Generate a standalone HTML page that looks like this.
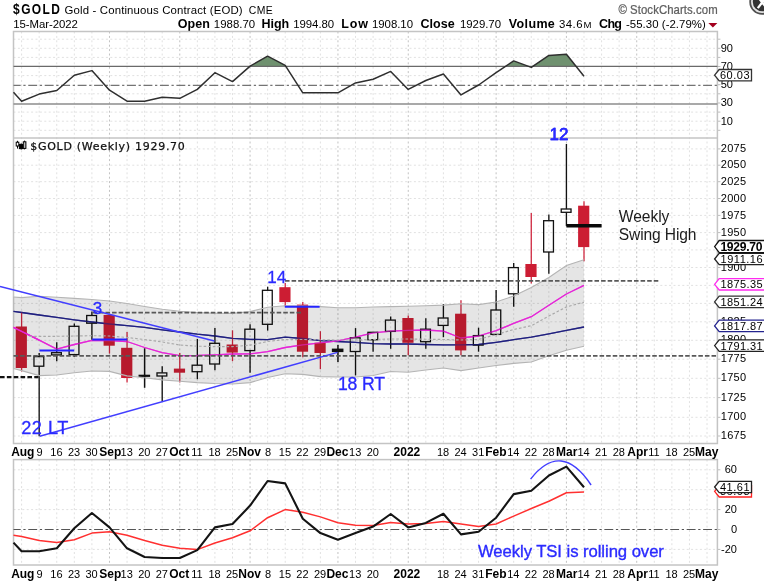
<!DOCTYPE html>
<html lang="en"><head><meta charset="utf-8"><title>$GOLD Gold - Continuous Contract (EOD) - Weekly</title>
<style>html,body{margin:0;padding:0;background:#fff}svg{display:block;will-change:transform}text{font-family:'Liberation Sans', Arial, sans-serif}</style></head><body>
<svg width="764" height="583" viewBox="0 0 764 583">
<rect width="764" height="583" fill="#fff"/>
<text transform="translate(13.1,14.3) scale(0.9,1.08)" font-size="13.3" font-weight="bold" textLength="52.0" lengthAdjust="spacing">$GOLD</text>
<text x="64.6" y="13.9" font-size="11.4" textLength="178.0" lengthAdjust="spacing">Gold - Continuous Contract (EOD)</text>
<text x="248.8" y="13.9" font-size="10.4" textLength="24.0" lengthAdjust="spacing">CME</text>
<text x="13.2" y="28.4" font-size="11.4" textLength="64.6" lengthAdjust="spacing">15-Mar-2022</text>
<text x="177.8" y="28.4" font-size="12.5" font-weight="bold" textLength="32.0" lengthAdjust="spacing">Open</text>
<text x="213.8" y="28.4" font-size="11.4" textLength="41.4" lengthAdjust="spacing">1988.70</text>
<text x="261.4" y="28.4" font-size="12.5" font-weight="bold" textLength="27.8" lengthAdjust="spacing">High</text>
<text x="293.2" y="28.4" font-size="11.4" textLength="41.0" lengthAdjust="spacing">1994.80</text>
<text x="341.2" y="28.4" font-size="12.5" font-weight="bold" textLength="26.8" lengthAdjust="spacing">Low</text>
<text x="372.0" y="28.4" font-size="11.4" textLength="41.0" lengthAdjust="spacing">1908.10</text>
<text x="420.6" y="28.4" font-size="12.5" font-weight="bold" textLength="34.0" lengthAdjust="spacing">Close</text>
<text x="460.0" y="28.4" font-size="11.4" textLength="41.0" lengthAdjust="spacing">1929.70</text>
<text x="508.8" y="28.4" font-size="12.5" font-weight="bold" textLength="46.0" lengthAdjust="spacing">Volume</text>
<text x="559.0" y="28.4" font-size="11.4" textLength="23.6" lengthAdjust="spacing">34.6</text>
<text x="583.6" y="28.4" font-size="11.4"><tspan font-size="9.6">M</tspan></text>
<text x="599.0" y="28.4" font-size="12.5" font-weight="bold" textLength="23.0" lengthAdjust="spacing">Chg</text>
<text x="626.0" y="28.4" font-size="11.4" textLength="79.8" lengthAdjust="spacing">-55.30 (-2.79%)</text>
<path d="M708.4,22.9 L717.4,22.9 L712.9,27.6 Z" fill="#a3001e"/>
<text transform="translate(618.4,14.1) scale(0.925,1)" font-size="12.3" fill="#606060" stroke="#606060" stroke-width="0.25" textLength="107.4" lengthAdjust="spacing">© StockCharts.com</text>
<g><circle cx="762.2" cy="1.9" r="12.9" fill="#4f4f4f"/><circle cx="762.2" cy="1.9" r="11.1" fill="#e4e4e4"/><circle cx="762.2" cy="1.9" r="9.4" fill="#333"/><path d="M757.8,-3.3 L766.6,8.1 M766.6,-3.3 L757.8,8.1" stroke="#fff" stroke-width="2.3" stroke-linecap="butt"/></g>
<g stroke="#e1e1e1" stroke-width="1" stroke-dasharray="2 2.4" fill="none" shape-rendering="auto">
<line x1="21.60" y1="31.5" x2="21.60" y2="443.6"/>
<line x1="21.60" y1="459.6" x2="21.60" y2="565.0"/>
<line x1="39.17" y1="31.5" x2="39.17" y2="443.6"/>
<line x1="39.17" y1="459.6" x2="39.17" y2="565.0"/>
<line x1="56.75" y1="31.5" x2="56.75" y2="443.6"/>
<line x1="56.75" y1="459.6" x2="56.75" y2="565.0"/>
<line x1="74.32" y1="31.5" x2="74.32" y2="443.6"/>
<line x1="74.32" y1="459.6" x2="74.32" y2="565.0"/>
<line x1="91.90" y1="31.5" x2="91.90" y2="443.6"/>
<line x1="91.90" y1="459.6" x2="91.90" y2="565.0"/>
<line x1="109.47" y1="31.5" x2="109.47" y2="443.6" stroke="#c2c2c2"/>
<line x1="109.47" y1="459.6" x2="109.47" y2="565.0" stroke="#c2c2c2"/>
<line x1="127.05" y1="31.5" x2="127.05" y2="443.6"/>
<line x1="127.05" y1="459.6" x2="127.05" y2="565.0"/>
<line x1="144.62" y1="31.5" x2="144.62" y2="443.6"/>
<line x1="144.62" y1="459.6" x2="144.62" y2="565.0"/>
<line x1="162.20" y1="31.5" x2="162.20" y2="443.6"/>
<line x1="162.20" y1="459.6" x2="162.20" y2="565.0"/>
<line x1="179.77" y1="31.5" x2="179.77" y2="443.6" stroke="#c2c2c2"/>
<line x1="179.77" y1="459.6" x2="179.77" y2="565.0" stroke="#c2c2c2"/>
<line x1="197.35" y1="31.5" x2="197.35" y2="443.6"/>
<line x1="197.35" y1="459.6" x2="197.35" y2="565.0"/>
<line x1="214.92" y1="31.5" x2="214.92" y2="443.6"/>
<line x1="214.92" y1="459.6" x2="214.92" y2="565.0"/>
<line x1="232.50" y1="31.5" x2="232.50" y2="443.6"/>
<line x1="232.50" y1="459.6" x2="232.50" y2="565.0"/>
<line x1="250.07" y1="31.5" x2="250.07" y2="443.6" stroke="#c2c2c2"/>
<line x1="250.07" y1="459.6" x2="250.07" y2="565.0" stroke="#c2c2c2"/>
<line x1="267.65" y1="31.5" x2="267.65" y2="443.6"/>
<line x1="267.65" y1="459.6" x2="267.65" y2="565.0"/>
<line x1="285.23" y1="31.5" x2="285.23" y2="443.6"/>
<line x1="285.23" y1="459.6" x2="285.23" y2="565.0"/>
<line x1="302.80" y1="31.5" x2="302.80" y2="443.6"/>
<line x1="302.80" y1="459.6" x2="302.80" y2="565.0"/>
<line x1="320.38" y1="31.5" x2="320.38" y2="443.6"/>
<line x1="320.38" y1="459.6" x2="320.38" y2="565.0"/>
<line x1="337.95" y1="31.5" x2="337.95" y2="443.6" stroke="#c2c2c2"/>
<line x1="337.95" y1="459.6" x2="337.95" y2="565.0" stroke="#c2c2c2"/>
<line x1="355.53" y1="31.5" x2="355.53" y2="443.6"/>
<line x1="355.53" y1="459.6" x2="355.53" y2="565.0"/>
<line x1="373.10" y1="31.5" x2="373.10" y2="443.6"/>
<line x1="373.10" y1="459.6" x2="373.10" y2="565.0"/>
<line x1="390.68" y1="31.5" x2="390.68" y2="443.6"/>
<line x1="390.68" y1="459.6" x2="390.68" y2="565.0"/>
<line x1="408.25" y1="31.5" x2="408.25" y2="443.6" stroke="#c2c2c2"/>
<line x1="408.25" y1="459.6" x2="408.25" y2="565.0" stroke="#c2c2c2"/>
<line x1="425.82" y1="31.5" x2="425.82" y2="443.6"/>
<line x1="425.82" y1="459.6" x2="425.82" y2="565.0"/>
<line x1="443.40" y1="31.5" x2="443.40" y2="443.6"/>
<line x1="443.40" y1="459.6" x2="443.40" y2="565.0"/>
<line x1="460.98" y1="31.5" x2="460.98" y2="443.6"/>
<line x1="460.98" y1="459.6" x2="460.98" y2="565.0"/>
<line x1="478.55" y1="31.5" x2="478.55" y2="443.6"/>
<line x1="478.55" y1="459.6" x2="478.55" y2="565.0"/>
<line x1="496.12" y1="31.5" x2="496.12" y2="443.6" stroke="#c2c2c2"/>
<line x1="496.12" y1="459.6" x2="496.12" y2="565.0" stroke="#c2c2c2"/>
<line x1="513.70" y1="31.5" x2="513.70" y2="443.6"/>
<line x1="513.70" y1="459.6" x2="513.70" y2="565.0"/>
<line x1="531.27" y1="31.5" x2="531.27" y2="443.6"/>
<line x1="531.27" y1="459.6" x2="531.27" y2="565.0"/>
<line x1="548.85" y1="31.5" x2="548.85" y2="443.6"/>
<line x1="548.85" y1="459.6" x2="548.85" y2="565.0"/>
<line x1="566.42" y1="31.5" x2="566.42" y2="443.6" stroke="#c2c2c2"/>
<line x1="566.42" y1="459.6" x2="566.42" y2="565.0" stroke="#c2c2c2"/>
<line x1="584.00" y1="31.5" x2="584.00" y2="443.6"/>
<line x1="584.00" y1="459.6" x2="584.00" y2="565.0"/>
<line x1="601.58" y1="31.5" x2="601.58" y2="443.6"/>
<line x1="601.58" y1="459.6" x2="601.58" y2="565.0"/>
<line x1="619.15" y1="31.5" x2="619.15" y2="443.6"/>
<line x1="619.15" y1="459.6" x2="619.15" y2="565.0"/>
<line x1="636.73" y1="31.5" x2="636.73" y2="443.6" stroke="#c2c2c2"/>
<line x1="636.73" y1="459.6" x2="636.73" y2="565.0" stroke="#c2c2c2"/>
<line x1="654.30" y1="31.5" x2="654.30" y2="443.6"/>
<line x1="654.30" y1="459.6" x2="654.30" y2="565.0"/>
<line x1="671.88" y1="31.5" x2="671.88" y2="443.6"/>
<line x1="671.88" y1="459.6" x2="671.88" y2="565.0"/>
<line x1="689.45" y1="31.5" x2="689.45" y2="443.6"/>
<line x1="689.45" y1="459.6" x2="689.45" y2="565.0"/>
<line x1="707.02" y1="31.5" x2="707.02" y2="443.6"/>
<line x1="707.02" y1="459.6" x2="707.02" y2="565.0"/>
<line x1="13.5" y1="39.2" x2="717.4" y2="39.2"/>
<line x1="13.5" y1="48.3" x2="717.4" y2="48.3"/>
<line x1="13.5" y1="57.4" x2="717.4" y2="57.4"/>
<line x1="13.5" y1="75.6" x2="717.4" y2="75.6"/>
<line x1="13.5" y1="93.8" x2="717.4" y2="93.8"/>
<line x1="13.5" y1="112.1" x2="717.4" y2="112.1"/>
<line x1="13.5" y1="121.2" x2="717.4" y2="121.2"/>
<line x1="13.5" y1="130.3" x2="717.4" y2="130.3"/>
<line x1="13.5" y1="436.0" x2="717.4" y2="436.0"/>
<line x1="13.5" y1="417.3" x2="717.4" y2="417.3"/>
<line x1="13.5" y1="397.6" x2="717.4" y2="397.6"/>
<line x1="13.5" y1="378.3" x2="717.4" y2="378.3"/>
<line x1="13.5" y1="359.2" x2="717.4" y2="359.2"/>
<line x1="13.5" y1="340.3" x2="717.4" y2="340.3"/>
<line x1="13.5" y1="321.8" x2="717.4" y2="321.8"/>
<line x1="13.5" y1="303.4" x2="717.4" y2="303.4"/>
<line x1="13.5" y1="285.4" x2="717.4" y2="285.4"/>
<line x1="13.5" y1="267.5" x2="717.4" y2="267.5"/>
<line x1="13.5" y1="249.9" x2="717.4" y2="249.9"/>
<line x1="13.5" y1="232.6" x2="717.4" y2="232.6"/>
<line x1="13.5" y1="215.4" x2="717.4" y2="215.4"/>
<line x1="13.5" y1="198.5" x2="717.4" y2="198.5"/>
<line x1="13.5" y1="181.7" x2="717.4" y2="181.7"/>
<line x1="13.5" y1="165.2" x2="717.4" y2="165.2"/>
<line x1="13.5" y1="148.9" x2="717.4" y2="148.9"/>
<line x1="13.5" y1="469.8" x2="717.4" y2="469.8"/>
<line x1="13.5" y1="489.7" x2="717.4" y2="489.7"/>
<line x1="13.5" y1="509.6" x2="717.4" y2="509.6"/>
<line x1="13.5" y1="549.4" x2="717.4" y2="549.4"/>
</g>
<g stroke="#bdbdbd" stroke-width="1">
<line x1="717.4" y1="130.3" x2="720.4" y2="130.3"/>
<line x1="717.4" y1="121.2" x2="720.4" y2="121.2"/>
<line x1="717.4" y1="112.1" x2="720.4" y2="112.1"/>
<line x1="717.4" y1="103.0" x2="720.4" y2="103.0"/>
<line x1="717.4" y1="93.8" x2="720.4" y2="93.8"/>
<line x1="717.4" y1="84.7" x2="720.4" y2="84.7"/>
<line x1="717.4" y1="75.6" x2="720.4" y2="75.6"/>
<line x1="717.4" y1="66.5" x2="720.4" y2="66.5"/>
<line x1="717.4" y1="57.4" x2="720.4" y2="57.4"/>
<line x1="717.4" y1="48.3" x2="720.4" y2="48.3"/>
<line x1="717.4" y1="39.2" x2="720.4" y2="39.2"/>
<line x1="717.4" y1="436.0" x2="720.4" y2="436.0"/>
<line x1="717.4" y1="417.3" x2="720.4" y2="417.3"/>
<line x1="717.4" y1="397.6" x2="720.4" y2="397.6"/>
<line x1="717.4" y1="378.3" x2="720.4" y2="378.3"/>
<line x1="717.4" y1="359.2" x2="720.4" y2="359.2"/>
<line x1="717.4" y1="340.3" x2="720.4" y2="340.3"/>
<line x1="717.4" y1="321.8" x2="720.4" y2="321.8"/>
<line x1="717.4" y1="303.4" x2="720.4" y2="303.4"/>
<line x1="717.4" y1="285.4" x2="720.4" y2="285.4"/>
<line x1="717.4" y1="267.5" x2="720.4" y2="267.5"/>
<line x1="717.4" y1="249.9" x2="720.4" y2="249.9"/>
<line x1="717.4" y1="232.6" x2="720.4" y2="232.6"/>
<line x1="717.4" y1="215.4" x2="720.4" y2="215.4"/>
<line x1="717.4" y1="198.5" x2="720.4" y2="198.5"/>
<line x1="717.4" y1="181.7" x2="720.4" y2="181.7"/>
<line x1="717.4" y1="165.2" x2="720.4" y2="165.2"/>
<line x1="717.4" y1="148.9" x2="720.4" y2="148.9"/>
<line x1="717.4" y1="469.8" x2="720.4" y2="469.8"/>
<line x1="717.4" y1="489.7" x2="720.4" y2="489.7"/>
<line x1="717.4" y1="509.6" x2="720.4" y2="509.6"/>
<line x1="717.4" y1="529.5" x2="720.4" y2="529.5"/>
<line x1="717.4" y1="549.4" x2="720.4" y2="549.4"/>
</g>
<g stroke="#c4c4c4" stroke-width="1.5" fill="none">
<path d="M13.5,31.5 H717.4 V443.6 H13.5 Z"/>
<line x1="13.5" y1="137.9" x2="717.4" y2="137.9"/>
<rect x="13.5" y="459.6" width="703.9" height="105.4"/>
</g>
<clipPath id="c70"><rect x="13.5" y="31.5" width="703.9" height="34.9"/></clipPath>
<polygon clip-path="url(#c70)" fill="#6f916f" points="13.5,92.3 21.6,101.2 39.2,94.1 56.8,90.5 74.3,75.3 91.9,70.6 109.5,90.2 127.0,101.2 144.6,101.2 162.2,97.3 179.8,98.3 197.3,89.4 214.9,72.7 232.5,81.6 250.1,66.1 267.6,56.2 285.2,65.3 302.8,92.8 320.4,92.8 337.9,92.8 355.5,82.9 373.1,79.2 390.7,71.4 408.2,89.4 425.8,80.5 443.4,74.0 461.0,94.9 478.6,85.0 496.1,72.7 513.7,60.9 531.3,67.4 548.9,55.4 566.4,54.3 584.0,76.3 584.0,140.0 13.5,140.0"/>
<line x1="13.5" y1="66.4" x2="717.4" y2="66.4" stroke="#6a6a6a" stroke-width="1.1"/>
<line x1="13.5" y1="103.9" x2="717.4" y2="103.9" stroke="#8c8c8c" stroke-width="1.5"/>
<line x1="13.5" y1="85.3" x2="717.4" y2="85.3" stroke="#747474" stroke-width="1.2" stroke-dasharray="8.9 2.65 2.26 2.65" stroke-dashoffset="1.7"/>
<polyline fill="none" stroke="#2f2f2f" stroke-width="1.5" stroke-linejoin="round" points="13.5,92.3 21.6,101.2 39.2,94.1 56.8,90.5 74.3,75.3 91.9,70.6 109.5,90.2 127.0,101.2 144.6,101.2 162.2,97.3 179.8,98.3 197.3,89.4 214.9,72.7 232.5,81.6 250.1,66.1 267.6,56.2 285.2,65.3 302.8,92.8 320.4,92.8 337.9,92.8 355.5,82.9 373.1,79.2 390.7,71.4 408.2,89.4 425.8,80.5 443.4,74.0 461.0,94.9 478.6,85.0 496.1,72.7 513.7,60.9 531.3,67.4 548.9,55.4 566.4,54.3 584.0,76.3"/>
<polyline fill="none" stroke="#23238e" stroke-width="1.3" stroke-linejoin="round" points="13.5,311.4 21.6,312.5 39.2,315.0 56.8,317.4 74.3,319.8 91.9,322.0 109.5,324.0 127.0,325.6 144.6,327.4 162.2,329.8 179.8,332.0 197.3,334.2 214.9,336.0 232.5,338.4 250.1,339.4 267.6,339.7 285.2,337.2 302.8,338.5 320.4,340.6 337.9,341.5 355.5,342.3 373.1,343.7 390.7,344.0 408.2,344.0 425.8,344.5 443.4,344.9 461.0,344.9 478.6,344.5 496.1,342.3 513.7,339.7 531.3,337.2 548.9,333.8 566.4,330.4 584.0,327.0"/>
<polyline fill="none" stroke="#ff2af0" stroke-width="1.3" stroke-linejoin="round" points="13.5,327.4 21.6,331.3 39.2,340.1 56.8,349.2 74.3,344.5 91.9,340.3 109.5,340.7 127.0,341.5 144.6,347.5 162.2,352.6 179.8,355.7 197.3,355.5 214.9,354.8 232.5,354.0 250.1,353.8 267.6,351.7 285.2,347.5 302.8,344.9 320.4,342.8 337.9,340.9 355.5,337.2 373.1,332.9 390.7,331.2 408.2,330.3 425.8,330.0 443.4,331.2 461.0,338.0 478.6,336.0 496.1,330.7 513.7,323.4 531.3,316.7 548.9,305.2 566.4,294.0 584.0,285.4"/>
<line x1="21.60" y1="312.3" x2="21.60" y2="371.5" stroke="#d02840" stroke-width="1.3"/>
<rect x="15.70" y="326.5" width="11.2" height="41.5" fill="#cc1d33"/>
<line x1="39.17" y1="353.1" x2="39.17" y2="356.5" stroke="#111" stroke-width="1.35"/>
<line x1="39.17" y1="366.3" x2="39.17" y2="436.2" stroke="#111" stroke-width="1.35"/>
<rect x="33.97" y="356.6" width="9.8" height="9.6" fill="none" stroke="#111" stroke-width="1.3"/>
<line x1="56.75" y1="342.3" x2="56.75" y2="352.6" stroke="#111" stroke-width="1.35"/>
<line x1="56.75" y1="355.0" x2="56.75" y2="361.2" stroke="#111" stroke-width="1.35"/>
<rect x="51.55" y="352.7" width="9.8" height="2.2" fill="none" stroke="#111" stroke-width="1.3"/>
<line x1="74.32" y1="323.4" x2="74.32" y2="326.2" stroke="#111" stroke-width="1.35"/>
<line x1="74.32" y1="354.7" x2="74.32" y2="356.9" stroke="#111" stroke-width="1.35"/>
<rect x="69.12" y="326.3" width="9.8" height="28.3" fill="none" stroke="#111" stroke-width="1.3"/>
<line x1="91.90" y1="311.4" x2="91.90" y2="315.4" stroke="#111" stroke-width="1.35"/>
<line x1="91.90" y1="323.3" x2="91.90" y2="339.7" stroke="#111" stroke-width="1.35"/>
<rect x="86.70" y="315.5" width="9.8" height="7.7" fill="none" stroke="#111" stroke-width="1.3"/>
<line x1="109.47" y1="314.0" x2="109.47" y2="353.5" stroke="#d02840" stroke-width="1.3"/>
<rect x="103.57" y="314.9" width="11.2" height="30.8" fill="#cc1d33"/>
<line x1="127.05" y1="332.0" x2="127.05" y2="382.6" stroke="#d02840" stroke-width="1.3"/>
<rect x="121.15" y="347.8" width="11.2" height="30.2" fill="#cc1d33"/>
<line x1="144.62" y1="348.3" x2="144.62" y2="387.8" stroke="#111" stroke-width="1.5"/>
<rect x="138.53" y="374.7" width="11.6" height="2.2" fill="#111"/>
<line x1="162.20" y1="366.3" x2="162.20" y2="372.8" stroke="#111" stroke-width="1.35"/>
<line x1="162.20" y1="376.1" x2="162.20" y2="401.4" stroke="#111" stroke-width="1.35"/>
<rect x="157.00" y="372.9" width="9.8" height="3.1" fill="none" stroke="#111" stroke-width="1.3"/>
<line x1="179.77" y1="353.1" x2="179.77" y2="382.6" stroke="#d02840" stroke-width="1.3"/>
<rect x="173.87" y="368.6" width="11.2" height="4.1" fill="#cc1d33"/>
<line x1="197.35" y1="338.9" x2="197.35" y2="365.1" stroke="#111" stroke-width="1.35"/>
<line x1="197.35" y1="371.8" x2="197.35" y2="379.2" stroke="#111" stroke-width="1.35"/>
<rect x="192.15" y="365.2" width="9.8" height="6.5" fill="none" stroke="#111" stroke-width="1.3"/>
<line x1="214.92" y1="328.0" x2="214.92" y2="343.2" stroke="#111" stroke-width="1.35"/>
<line x1="214.92" y1="364.1" x2="214.92" y2="370.3" stroke="#111" stroke-width="1.35"/>
<rect x="209.72" y="343.3" width="9.8" height="20.7" fill="none" stroke="#111" stroke-width="1.3"/>
<line x1="232.50" y1="330.3" x2="232.50" y2="361.2" stroke="#d02840" stroke-width="1.3"/>
<rect x="226.60" y="344.5" width="11.2" height="8.1" fill="#cc1d33"/>
<line x1="250.07" y1="324.3" x2="250.07" y2="329.1" stroke="#111" stroke-width="1.35"/>
<line x1="250.07" y1="350.7" x2="250.07" y2="372.7" stroke="#111" stroke-width="1.35"/>
<rect x="244.88" y="329.2" width="9.8" height="21.4" fill="none" stroke="#111" stroke-width="1.3"/>
<line x1="267.65" y1="286.7" x2="267.65" y2="290.2" stroke="#111" stroke-width="1.35"/>
<line x1="267.65" y1="324.4" x2="267.65" y2="330.6" stroke="#111" stroke-width="1.35"/>
<rect x="262.45" y="290.3" width="9.8" height="34.0" fill="none" stroke="#111" stroke-width="1.3"/>
<line x1="285.23" y1="282.9" x2="285.23" y2="306.0" stroke="#d02840" stroke-width="1.3"/>
<rect x="279.33" y="287.2" width="11.2" height="14.9" fill="#cc1d33"/>
<line x1="302.80" y1="302.0" x2="302.80" y2="357.2" stroke="#d02840" stroke-width="1.3"/>
<rect x="296.90" y="304.6" width="11.2" height="47.1" fill="#cc1d33"/>
<line x1="320.38" y1="331.2" x2="320.38" y2="369.2" stroke="#d02840" stroke-width="1.3"/>
<rect x="314.48" y="342.8" width="11.2" height="10.2" fill="#cc1d33"/>
<line x1="337.95" y1="344.9" x2="337.95" y2="362.0" stroke="#111" stroke-width="1.5"/>
<rect x="331.85" y="348.6" width="11.6" height="3.5" fill="#111"/>
<line x1="355.53" y1="328.1" x2="355.53" y2="337.7" stroke="#111" stroke-width="1.35"/>
<line x1="355.53" y1="351.6" x2="355.53" y2="375.4" stroke="#111" stroke-width="1.35"/>
<rect x="350.33" y="337.8" width="9.8" height="13.7" fill="none" stroke="#111" stroke-width="1.3"/>
<line x1="373.10" y1="339.8" x2="373.10" y2="351.7" stroke="#111" stroke-width="1.35"/>
<rect x="367.90" y="332.3" width="9.8" height="7.4" fill="none" stroke="#111" stroke-width="1.3"/>
<line x1="390.68" y1="316.6" x2="390.68" y2="320.0" stroke="#111" stroke-width="1.35"/>
<line x1="390.68" y1="331.5" x2="390.68" y2="348.7" stroke="#111" stroke-width="1.35"/>
<rect x="385.48" y="320.1" width="9.8" height="11.3" fill="none" stroke="#111" stroke-width="1.3"/>
<line x1="408.25" y1="315.4" x2="408.25" y2="355.2" stroke="#d02840" stroke-width="1.3"/>
<rect x="402.35" y="318.0" width="11.2" height="24.8" fill="#cc1d33"/>
<line x1="425.82" y1="318.3" x2="425.82" y2="329.1" stroke="#111" stroke-width="1.35"/>
<line x1="425.82" y1="341.8" x2="425.82" y2="348.7" stroke="#111" stroke-width="1.35"/>
<rect x="420.62" y="329.2" width="9.8" height="12.5" fill="none" stroke="#111" stroke-width="1.3"/>
<line x1="443.40" y1="304.0" x2="443.40" y2="317.9" stroke="#111" stroke-width="1.35"/>
<line x1="443.40" y1="325.5" x2="443.40" y2="337.2" stroke="#111" stroke-width="1.35"/>
<rect x="438.20" y="318.0" width="9.8" height="7.4" fill="none" stroke="#111" stroke-width="1.3"/>
<line x1="460.98" y1="300.3" x2="460.98" y2="355.2" stroke="#d02840" stroke-width="1.3"/>
<rect x="455.08" y="313.7" width="11.2" height="36.7" fill="#cc1d33"/>
<line x1="478.55" y1="327.7" x2="478.55" y2="335.5" stroke="#111" stroke-width="1.35"/>
<line x1="478.55" y1="345.2" x2="478.55" y2="351.7" stroke="#111" stroke-width="1.35"/>
<rect x="473.35" y="335.6" width="9.8" height="9.5" fill="none" stroke="#111" stroke-width="1.3"/>
<line x1="496.12" y1="290.1" x2="496.12" y2="309.9" stroke="#111" stroke-width="1.35"/>
<rect x="490.93" y="310.0" width="9.8" height="24.4" fill="none" stroke="#111" stroke-width="1.3"/>
<line x1="513.70" y1="263.0" x2="513.70" y2="267.5" stroke="#111" stroke-width="1.35"/>
<line x1="513.70" y1="293.9" x2="513.70" y2="306.8" stroke="#111" stroke-width="1.35"/>
<rect x="508.50" y="267.6" width="9.8" height="26.2" fill="none" stroke="#111" stroke-width="1.3"/>
<line x1="531.27" y1="213.1" x2="531.27" y2="283.5" stroke="#d02840" stroke-width="1.3"/>
<rect x="525.38" y="264.0" width="11.2" height="13.0" fill="#cc1d33"/>
<line x1="548.85" y1="214.6" x2="548.85" y2="220.6" stroke="#111" stroke-width="1.35"/>
<line x1="548.85" y1="252.1" x2="548.85" y2="273.8" stroke="#111" stroke-width="1.35"/>
<rect x="543.65" y="220.7" width="9.8" height="31.3" fill="none" stroke="#111" stroke-width="1.3"/>
<line x1="566.42" y1="144.0" x2="566.42" y2="208.9" stroke="#111" stroke-width="1.35"/>
<line x1="566.42" y1="212.4" x2="566.42" y2="225.9" stroke="#111" stroke-width="1.35"/>
<rect x="561.22" y="209.0" width="9.8" height="3.3" fill="none" stroke="#111" stroke-width="1.3"/>
<line x1="584.00" y1="201.2" x2="584.00" y2="261.3" stroke="#d02840" stroke-width="1.3"/>
<rect x="578.10" y="205.7" width="11.2" height="41.4" fill="#cc1d33"/>
<g opacity="0.6">
<polyline fill="none" stroke="#23238e" stroke-width="1.3" stroke-linejoin="round" points="13.5,311.4 21.6,312.5 39.2,315.0 56.8,317.4 74.3,319.8 91.9,322.0 109.5,324.0 127.0,325.6 144.6,327.4 162.2,329.8 179.8,332.0 197.3,334.2 214.9,336.0 232.5,338.4 250.1,339.4 267.6,339.7 285.2,337.2 302.8,338.5 320.4,340.6 337.9,341.5 355.5,342.3 373.1,343.7 390.7,344.0 408.2,344.0 425.8,344.5 443.4,344.9 461.0,344.9 478.6,344.5 496.1,342.3 513.7,339.7 531.3,337.2 548.9,333.8 566.4,330.4 584.0,327.0"/>
<polyline fill="none" stroke="#ff2af0" stroke-width="1.3" stroke-linejoin="round" points="13.5,327.4 21.6,331.3 39.2,340.1 56.8,349.2 74.3,344.5 91.9,340.3 109.5,340.7 127.0,341.5 144.6,347.5 162.2,352.6 179.8,355.7 197.3,355.5 214.9,354.8 232.5,354.0 250.1,353.8 267.6,351.7 285.2,347.5 302.8,344.9 320.4,342.8 337.9,340.9 355.5,337.2 373.1,332.9 390.7,331.2 408.2,330.3 425.8,330.0 443.4,331.2 461.0,338.0 478.6,336.0 496.1,330.7 513.7,323.4 531.3,316.7 548.9,305.2 566.4,294.0 584.0,285.4"/>
</g>
<polyline fill="none" stroke="#ff2af0" stroke-width="1.3" stroke-linejoin="round" points="13.5,327.4 21.6,331.3 39.2,340.1"/>
<polygon fill="#000" fill-opacity="0.1" points="13.5,297.0 21.6,297.6 39.2,296.3 56.8,297.2 74.3,298.4 91.9,299.5 109.5,301.0 127.0,303.5 144.6,306.5 162.2,309.3 179.8,311.3 197.3,312.6 214.9,313.3 232.5,313.4 250.1,311.6 267.6,307.2 285.2,305.8 302.8,306.0 320.4,306.6 337.9,307.7 355.5,307.7 373.1,307.0 390.7,306.6 408.2,306.3 425.8,305.7 443.4,305.1 461.0,303.7 478.6,304.6 496.1,302.0 513.7,296.0 531.3,287.4 548.9,277.5 566.4,265.6 584.0,259.8 584.0,346.3 566.4,350.3 548.9,355.8 531.3,362.0 513.7,363.4 496.1,365.5 478.6,368.0 461.0,370.6 443.4,368.0 425.8,370.0 408.2,372.3 390.7,371.5 373.1,375.5 355.5,377.0 337.9,377.0 320.4,376.6 302.8,374.4 285.2,373.7 267.6,377.5 250.1,382.6 232.5,384.0 214.9,383.5 197.3,382.6 179.8,381.2 162.2,379.9 144.6,377.8 127.0,375.9 109.5,371.4 91.9,371.0 74.3,372.7 56.8,375.0 39.2,375.6 21.6,370.6 13.5,368.5"/>
<polyline fill="none" stroke="#b4b4b4" stroke-width="1.1" points="13.5,297.0 21.6,297.6 39.2,296.3 56.8,297.2 74.3,298.4 91.9,299.5 109.5,301.0 127.0,303.5 144.6,306.5 162.2,309.3 179.8,311.3 197.3,312.6 214.9,313.3 232.5,313.4 250.1,311.6 267.6,307.2 285.2,305.8 302.8,306.0 320.4,306.6 337.9,307.7 355.5,307.7 373.1,307.0 390.7,306.6 408.2,306.3 425.8,305.7 443.4,305.1 461.0,303.7 478.6,304.6 496.1,302.0 513.7,296.0 531.3,287.4 548.9,277.5 566.4,265.6 584.0,259.8"/>
<polyline fill="none" stroke="#b4b4b4" stroke-width="1.1" points="13.5,368.5 21.6,370.6 39.2,375.6 56.8,375.0 74.3,372.7 91.9,371.0 109.5,371.4 127.0,375.9 144.6,377.8 162.2,379.9 179.8,381.2 197.3,382.6 214.9,383.5 232.5,384.0 250.1,382.6 267.6,377.5 285.2,373.7 302.8,374.4 320.4,376.6 337.9,377.0 355.5,377.0 373.1,375.5 390.7,371.5 408.2,372.3 425.8,370.0 443.4,368.0 461.0,370.6 478.6,368.0 496.1,365.5 513.7,363.4 531.3,362.0 548.9,355.8 566.4,350.3 584.0,346.3"/>
<polyline fill="none" stroke="#a9a9a9" stroke-width="1.15" stroke-dasharray="2.6 2" points="29.5,336.3 39.2,336.3 56.8,336.3 74.3,336.0 91.9,335.7 109.5,336.0 127.0,337.5 144.6,339.5 162.2,342.0 179.8,345.0 197.3,346.2 214.9,346.6 232.5,346.6 250.1,345.2 267.6,341.5 285.2,339.5 302.8,339.5 320.4,339.8 337.9,340.0 355.5,340.0 373.1,339.5 390.7,339.0 408.2,339.0 425.8,339.2 443.4,339.5 461.0,340.0 478.6,339.4 496.1,334.6 513.7,329.5 531.3,325.7 548.9,316.0 566.4,306.9 584.0,302.2"/>
<line x1="13.5" y1="355.8" x2="717.4" y2="355.8" stroke="#585858" stroke-width="1.7" stroke-dasharray="4.55 2.035"/>
<line x1="92.3" y1="312.7" x2="301.5" y2="312.7" stroke="#585858" stroke-width="1.7" stroke-dasharray="4.55 2.035"/>
<line x1="285" y1="280.8" x2="659.3" y2="280.8" stroke="#585858" stroke-width="1.7" stroke-dasharray="4.55 2.035"/>
<line x1="0" y1="377.2" x2="38.5" y2="377.2" stroke="#111" stroke-width="2.3" stroke-dasharray="4.6 2.25"/>
<line x1="0" y1="286.4" x2="214.4" y2="341.0" stroke="#423eff" stroke-width="1.5"/>
<line x1="39.7" y1="436.2" x2="337.5" y2="352.4" stroke="#423eff" stroke-width="1.5"/>
<line x1="39.4" y1="350.6" x2="74.2" y2="350.6" stroke="#2424ff" stroke-width="2.0"/>
<line x1="92.2" y1="339.6" x2="127.2" y2="339.6" stroke="#2424ff" stroke-width="2.0"/>
<line x1="284.8" y1="306.7" x2="319.6" y2="306.7" stroke="#2424ff" stroke-width="2.0"/>
<path d="M566.4,225.8 L601.6,225.8" stroke="#0a0a0a" stroke-width="3.4"/>
<text x="92.7" y="313.7" font-size="17" fill="#2a2aff" stroke="#2a2aff" stroke-width="0.3">3</text>
<text x="267.2" y="283.0" font-size="17" fill="#2a2aff" stroke="#2a2aff" stroke-width="0.3">14</text>
<text x="549.6" y="139.8" font-size="17" fill="#2a2aff" stroke="#2a2aff" stroke-width="0.3">12</text>
<text x="21.2" y="434.0" font-size="18.2" fill="#2a2aff" textLength="47.2" lengthAdjust="spacing" stroke="#2a2aff" stroke-width="0.3">22 LT</text>
<text x="338.0" y="390.1" font-size="17.6" fill="#2a2aff" textLength="46.9" lengthAdjust="spacing" stroke="#2a2aff" stroke-width="0.3">18 RT</text>
<text x="618.8" y="222.2" font-size="15.6" fill="#1c1c1c" textLength="50.6" lengthAdjust="spacing">Weekly</text>
<text x="618.8" y="239.7" font-size="15.6" fill="#1c1c1c" textLength="77.7" lengthAdjust="spacing">Swing High</text>
<g stroke="#000" stroke-width="1" fill="#fff"><line x1="17.5" y1="140.8" x2="17.5" y2="148.6"/><rect x="16.2" y="142.2" width="2.6" height="3.8"/><line x1="21.2" y1="143.4" x2="21.2" y2="149.6"/><rect x="19.4" y="144.4" width="3.6" height="4.2" fill="#000"/><line x1="24.6" y1="140.6" x2="24.6" y2="149.4"/><rect x="23.3" y="141.8" width="2.6" height="6.6" fill="#bbb"/></g>
<text x="30.2" y="149.9" font-size="11" fill="#111" textLength="154.6" lengthAdjust="spacing" style='font-family:"DejaVu Sans", Verdana, sans-serif' stroke="#111" stroke-width="0.25">$GOLD (Weekly) 1929.70</text>
<line x1="13.5" y1="529.5" x2="717.4" y2="529.5" stroke="#555" stroke-width="1.2" stroke-dasharray="8.9 2.65 2.26 2.65" stroke-dashoffset="1.7"/>
<polyline fill="none" stroke="#ff3030" stroke-width="1.5" stroke-linejoin="round" points="13.5,535.2 21.6,536.5 39.2,540.5 56.8,542.6 74.3,539.7 91.9,533.1 109.5,531.8 127.0,535.2 144.6,540.5 162.2,545.2 179.8,548.3 197.3,549.6 214.9,543.0 232.5,537.8 250.1,530.8 267.6,517.7 285.2,509.6 302.8,512.2 320.4,516.9 337.9,522.7 355.5,525.3 373.1,525.5 390.7,522.4 408.2,524.0 425.8,523.4 443.4,521.4 461.0,524.0 478.6,526.6 496.1,524.0 513.7,516.1 531.3,508.5 548.9,501.2 566.4,492.8 584.0,492.0"/>
<polyline fill="none" stroke="#141414" stroke-width="2.1" stroke-linejoin="round" points="13.5,542.6 21.6,551.2 39.2,551.2 56.8,548.3 74.3,528.2 91.9,513.0 109.5,527.4 127.0,548.3 144.6,557.0 162.2,558.0 179.8,558.0 197.3,550.1 214.9,527.4 232.5,524.0 250.1,505.6 267.6,481.0 285.2,483.4 302.8,518.7 320.4,533.1 337.9,539.7 355.5,533.1 373.1,526.6 390.7,514.0 408.2,527.4 425.8,522.9 443.4,513.8 461.0,534.4 478.6,531.8 496.1,517.7 513.7,494.1 531.3,490.7 548.9,475.5 566.4,466.6 584.0,487.3"/>
<path d="M530.6,479.1 Q561.2,440.0 591.1,485.0" fill="none" stroke="#423eff" stroke-width="1.4"/>
<text x="477.9" y="556.6" font-size="16.7" fill="#2a2aff" textLength="186.0" lengthAdjust="spacing" stroke="#2a2aff" stroke-width="0.35">Weekly TSI is rolling over</text>
<text x="549.6" y="139.8" font-size="17" fill="#2a2aff" stroke="#2a2aff" stroke-width="0.3">12</text>
<text x="720.7" y="51.6" font-size="11" textLength="12.2" lengthAdjust="spacing">90</text>
<text x="720.7" y="69.8" font-size="11" textLength="12.2" lengthAdjust="spacing">70</text>
<text x="720.7" y="88.0" font-size="11" textLength="12.2" lengthAdjust="spacing">50</text>
<text x="720.7" y="106.3" font-size="11" textLength="12.2" lengthAdjust="spacing">30</text>
<text x="720.7" y="124.5" font-size="11" textLength="12.2" lengthAdjust="spacing">10</text>
<text x="720.7" y="439.1" font-size="11" textLength="25.4" lengthAdjust="spacing">1675</text>
<text x="720.7" y="420.4" font-size="11" textLength="25.4" lengthAdjust="spacing">1700</text>
<text x="720.7" y="400.7" font-size="11" textLength="25.4" lengthAdjust="spacing">1725</text>
<text x="720.7" y="381.3" font-size="11" textLength="25.4" lengthAdjust="spacing">1750</text>
<text x="720.7" y="362.2" font-size="11" textLength="25.4" lengthAdjust="spacing">1775</text>
<text x="720.7" y="343.4" font-size="11" textLength="25.4" lengthAdjust="spacing">1800</text>
<text x="720.7" y="324.8" font-size="11" textLength="25.4" lengthAdjust="spacing">1825</text>
<text x="720.7" y="306.5" font-size="11" textLength="25.4" lengthAdjust="spacing">1850</text>
<text x="720.7" y="288.4" font-size="11" textLength="25.4" lengthAdjust="spacing">1875</text>
<text x="720.7" y="270.6" font-size="11" textLength="25.4" lengthAdjust="spacing">1900</text>
<text x="720.7" y="253.0" font-size="11" textLength="25.4" lengthAdjust="spacing">1925</text>
<text x="720.7" y="235.6" font-size="11" textLength="25.4" lengthAdjust="spacing">1950</text>
<text x="720.7" y="218.5" font-size="11" textLength="25.4" lengthAdjust="spacing">1975</text>
<text x="720.7" y="201.5" font-size="11" textLength="25.4" lengthAdjust="spacing">2000</text>
<text x="720.7" y="184.8" font-size="11" textLength="25.4" lengthAdjust="spacing">2025</text>
<text x="720.7" y="168.3" font-size="11" textLength="25.4" lengthAdjust="spacing">2050</text>
<text x="720.7" y="151.9" font-size="11" textLength="25.4" lengthAdjust="spacing">2075</text>
<text x="737.0" y="472.9" font-size="11" text-anchor="end">60</text>
<text x="737.0" y="492.8" font-size="11" text-anchor="end">40</text>
<text x="737.0" y="512.7" font-size="11" text-anchor="end">20</text>
<text x="737.0" y="532.6" font-size="11" text-anchor="end">0</text>
<text x="737.0" y="552.5" font-size="11" text-anchor="end">-20</text>
<path d="M714.6,75.2 L719.2,69.5 L751.5,69.5 L751.5,80.9 L719.2,80.9 Z" fill="#fff" stroke="#333" stroke-width="1.3" stroke-linejoin="miter"/>
<text x="719.9" y="79.1" font-size="11" textLength="29.7" lengthAdjust="spacing">60.03</text>
<path d="M714.6,259.0 L719.2,253.3 L770.0,253.3 L770.0,264.7 L719.2,264.7 Z" fill="#fff" stroke="#222" stroke-width="1.3" stroke-linejoin="miter"/>
<text x="720.6" y="262.9" font-size="11" textLength="42.0" lengthAdjust="spacing">1911.16</text>
<path d="M714.6,246.6 L719.2,240.5 L770.0,240.5 L770.0,252.7 L719.2,252.7 Z" fill="#fff" stroke="#111" stroke-width="1.3" stroke-linejoin="miter"/>
<text x="720.4" y="250.9" font-size="12.1" font-weight="bold" textLength="42.0" lengthAdjust="spacing">1929.70</text>
<path d="M714.6,284.3 L719.2,278.6 L770.0,278.6 L770.0,290.0 L719.2,290.0 Z" fill="#fff" stroke="#ff2af0" stroke-width="1.3" stroke-linejoin="miter"/>
<text x="720.6" y="288.2" font-size="11" textLength="42.0" lengthAdjust="spacing">1875.35</text>
<path d="M714.6,301.9 L719.2,296.2 L770.0,296.2 L770.0,307.6 L719.2,307.6 Z" fill="#fff" stroke="#333" stroke-width="1.3" stroke-linejoin="miter"/>
<text x="720.6" y="305.8" font-size="11" textLength="42.0" lengthAdjust="spacing">1851.24</text>
<path d="M714.6,325.9 L719.2,320.2 L770.0,320.2 L770.0,331.6 L719.2,331.6 Z" fill="#fff" stroke="#23238e" stroke-width="1.3" stroke-linejoin="miter"/>
<text x="720.6" y="329.8" font-size="11" textLength="42.0" lengthAdjust="spacing">1817.87</text>
<path d="M714.6,345.6 L719.2,339.9 L770.0,339.9 L770.0,351.3 L719.2,351.3 Z" fill="#fff" stroke="#222" stroke-width="1.3" stroke-linejoin="miter"/>
<text x="720.6" y="349.5" font-size="11" textLength="42.0" lengthAdjust="spacing">1791.31</text>
<path d="M714.6,491.3 L719.2,485.6 L751.5,485.6 L751.5,497.0 L719.2,497.0 Z" fill="#fff" stroke="#ff2020" stroke-width="1.3" stroke-linejoin="miter"/>
<text x="719.9" y="495.2" font-size="11" textLength="29.7" lengthAdjust="spacing">36.08</text>
<path d="M714.6,487.0 L719.2,481.3 L751.5,481.3 L751.5,492.7 L719.2,492.7 Z" fill="#fff" stroke="#222" stroke-width="1.3" stroke-linejoin="miter"/>
<text x="719.9" y="490.9" font-size="11" textLength="29.7" lengthAdjust="spacing">41.61</text>
<text x="22.8" y="455.6" font-size="12" text-anchor="middle" font-weight="bold">Aug</text>
<text x="39.6" y="455.6" font-size="11" text-anchor="middle">9</text>
<text x="56.4" y="455.6" font-size="11" text-anchor="middle">16</text>
<text x="74.0" y="455.6" font-size="11" text-anchor="middle">23</text>
<text x="91.6" y="455.6" font-size="11" text-anchor="middle">30</text>
<text x="110.3" y="455.6" font-size="12" text-anchor="middle" font-weight="bold">Sep</text>
<text x="126.7" y="455.6" font-size="11" text-anchor="middle">13</text>
<text x="144.3" y="455.6" font-size="11" text-anchor="middle">20</text>
<text x="161.8" y="455.6" font-size="11" text-anchor="middle">27</text>
<text x="179.2" y="455.6" font-size="12" text-anchor="middle" font-weight="bold">Oct</text>
<text x="197.0" y="455.6" font-size="11" text-anchor="middle">11</text>
<text x="214.6" y="455.6" font-size="11" text-anchor="middle">18</text>
<text x="232.1" y="455.6" font-size="11" text-anchor="middle">25</text>
<text x="249.6" y="455.6" font-size="12" text-anchor="middle" font-weight="bold">Nov</text>
<text x="268.0" y="455.6" font-size="11" text-anchor="middle">8</text>
<text x="284.9" y="455.6" font-size="11" text-anchor="middle">15</text>
<text x="302.4" y="455.6" font-size="11" text-anchor="middle">22</text>
<text x="320.0" y="455.6" font-size="11" text-anchor="middle">29</text>
<text x="337.4" y="455.6" font-size="12" text-anchor="middle" font-weight="bold">Dec</text>
<text x="355.2" y="455.6" font-size="11" text-anchor="middle">13</text>
<text x="372.8" y="455.6" font-size="11" text-anchor="middle">20</text>
<text x="406.9" y="455.6" font-size="12" text-anchor="middle" font-weight="bold">2022</text>
<text x="443.0" y="455.6" font-size="11" text-anchor="middle">18</text>
<text x="460.6" y="455.6" font-size="11" text-anchor="middle">24</text>
<text x="478.2" y="455.6" font-size="11" text-anchor="middle">31</text>
<text x="495.9" y="455.6" font-size="12" text-anchor="middle" font-weight="bold">Feb</text>
<text x="513.3" y="455.6" font-size="11" text-anchor="middle">14</text>
<text x="530.9" y="455.6" font-size="11" text-anchor="middle">22</text>
<text x="548.5" y="455.6" font-size="11" text-anchor="middle">28</text>
<text x="566.7" y="455.6" font-size="12" text-anchor="middle" font-weight="bold">Mar</text>
<text x="583.6" y="455.6" font-size="11" text-anchor="middle">14</text>
<text x="601.2" y="455.6" font-size="11" text-anchor="middle">21</text>
<text x="618.8" y="455.6" font-size="11" text-anchor="middle">28</text>
<text x="637.6" y="455.6" font-size="12" text-anchor="middle" font-weight="bold">Apr</text>
<text x="653.9" y="455.6" font-size="11" text-anchor="middle">11</text>
<text x="671.5" y="455.6" font-size="11" text-anchor="middle">18</text>
<text x="689.1" y="455.6" font-size="11" text-anchor="middle">25</text>
<text x="706.7" y="455.6" font-size="12" text-anchor="middle" font-weight="bold">May</text>
<text x="22.8" y="577.6" font-size="12" text-anchor="middle" font-weight="bold">Aug</text>
<text x="39.6" y="577.6" font-size="11" text-anchor="middle">9</text>
<text x="56.4" y="577.6" font-size="11" text-anchor="middle">16</text>
<text x="74.0" y="577.6" font-size="11" text-anchor="middle">23</text>
<text x="91.6" y="577.6" font-size="11" text-anchor="middle">30</text>
<text x="110.3" y="577.6" font-size="12" text-anchor="middle" font-weight="bold">Sep</text>
<text x="126.7" y="577.6" font-size="11" text-anchor="middle">13</text>
<text x="144.3" y="577.6" font-size="11" text-anchor="middle">20</text>
<text x="161.8" y="577.6" font-size="11" text-anchor="middle">27</text>
<text x="179.2" y="577.6" font-size="12" text-anchor="middle" font-weight="bold">Oct</text>
<text x="197.0" y="577.6" font-size="11" text-anchor="middle">11</text>
<text x="214.6" y="577.6" font-size="11" text-anchor="middle">18</text>
<text x="232.1" y="577.6" font-size="11" text-anchor="middle">25</text>
<text x="249.6" y="577.6" font-size="12" text-anchor="middle" font-weight="bold">Nov</text>
<text x="268.0" y="577.6" font-size="11" text-anchor="middle">8</text>
<text x="284.9" y="577.6" font-size="11" text-anchor="middle">15</text>
<text x="302.4" y="577.6" font-size="11" text-anchor="middle">22</text>
<text x="320.0" y="577.6" font-size="11" text-anchor="middle">29</text>
<text x="337.4" y="577.6" font-size="12" text-anchor="middle" font-weight="bold">Dec</text>
<text x="355.2" y="577.6" font-size="11" text-anchor="middle">13</text>
<text x="372.8" y="577.6" font-size="11" text-anchor="middle">20</text>
<text x="406.9" y="577.6" font-size="12" text-anchor="middle" font-weight="bold">2022</text>
<text x="443.0" y="577.6" font-size="11" text-anchor="middle">18</text>
<text x="460.6" y="577.6" font-size="11" text-anchor="middle">24</text>
<text x="478.2" y="577.6" font-size="11" text-anchor="middle">31</text>
<text x="495.9" y="577.6" font-size="12" text-anchor="middle" font-weight="bold">Feb</text>
<text x="513.3" y="577.6" font-size="11" text-anchor="middle">14</text>
<text x="530.9" y="577.6" font-size="11" text-anchor="middle">22</text>
<text x="548.5" y="577.6" font-size="11" text-anchor="middle">28</text>
<text x="566.7" y="577.6" font-size="12" text-anchor="middle" font-weight="bold">Mar</text>
<text x="583.6" y="577.6" font-size="11" text-anchor="middle">14</text>
<text x="601.2" y="577.6" font-size="11" text-anchor="middle">21</text>
<text x="618.8" y="577.6" font-size="11" text-anchor="middle">28</text>
<text x="637.6" y="577.6" font-size="12" text-anchor="middle" font-weight="bold">Apr</text>
<text x="653.9" y="577.6" font-size="11" text-anchor="middle">11</text>
<text x="671.5" y="577.6" font-size="11" text-anchor="middle">18</text>
<text x="689.1" y="577.6" font-size="11" text-anchor="middle">25</text>
<text x="706.7" y="577.6" font-size="12" text-anchor="middle" font-weight="bold">May</text>
</svg></body></html>
